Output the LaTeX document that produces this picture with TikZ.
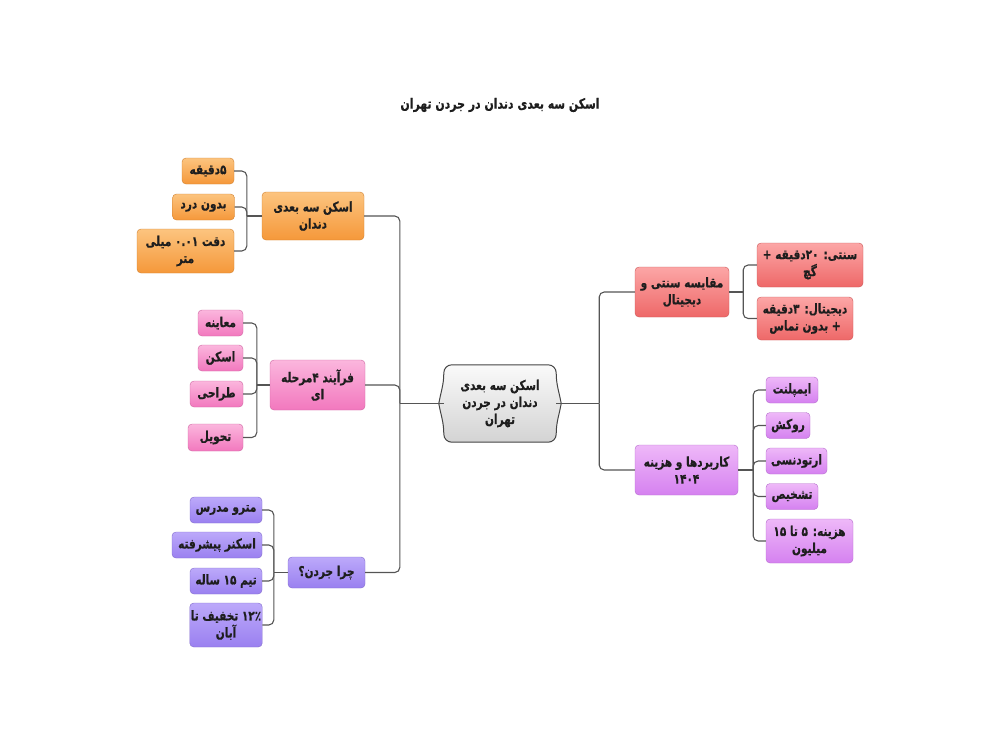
\documentclass[tikz,border=0pt]{standalone}
\usepackage{fontspec}
\usetikzlibrary{backgrounds}
\newfontfamily\arabicfont[Script=Arabic, FakeStretch=0.78, BoldFeatures={FakeBold=0.6}]{DejaVu Sans}
\TeXXeTstate=1
\newcommand{\fa}[1]{{\arabicfont\bfseries\beginR #1\endR}}
\newcommand{\nm}[1]{\beginL #1\endL}

\definecolor{txt}{HTML}{1E1E1E}
\definecolor{linec}{HTML}{555555}
\definecolor{orA}{HTML}{FCC47F}
\definecolor{orB}{HTML}{F5983A}
\definecolor{piA}{HTML}{FBB6DD}
\definecolor{piB}{HTML}{F278BE}
\definecolor{peA}{HTML}{BCA9FA}
\definecolor{peB}{HTML}{9A80F0}
\definecolor{reA}{HTML}{FCA6A6}
\definecolor{reB}{HTML}{EE6868}
\definecolor{viA}{HTML}{EEB8F8}
\definecolor{viB}{HTML}{D581F0}
\definecolor{grA}{HTML}{FAFAFA}
\definecolor{grB}{HTML}{D3D3D3}

\tikzset{
	box/.style={rounded corners=4pt, align=center, inner xsep=1pt, inner ysep=2pt, text=txt,
		font=\fontsize{13.5}{17}\selectfont},
	orangebox/.style={box, top color=orA, bottom color=orB, draw=orB!85!black, line width=0.4pt},
	pinkbox/.style={box, top color=piA, bottom color=piB, draw=piB!85!black, line width=0.4pt},
	peribox/.style={box, top color=peA, bottom color=peB, draw=peB!85!black, line width=0.4pt},
	redbox/.style={box, top color=reA, bottom color=reB, draw=reB!85!black, line width=0.4pt},
	violetbox/.style={box, top color=viA, bottom color=viB, draw=viB!85!black, line width=0.4pt},
	link/.style={draw=linec, line width=1.1pt, rounded corners=5pt},
}

\begin{document}
\begin{tikzpicture}[x=1pt, y=-1pt]
	\useasboundingbox (0,0) rectangle (1000,750);

	\node[text=txt, font=\fontsize{14}{16}\selectfont] (ttl) at (500,105) {\fa{اسکن سه بعدی دندان در جردن تهران}};

	\node[align=center, text=txt, font=\fontsize{13.5}{17}\selectfont, minimum width=112pt, minimum height=77pt] (ctr) at (500,403.5)
		{\fa{اسکن سه بعدی}\\\fa{دندان در جردن}\\\fa{تهران}};
	\begin{scope}[on background layer]
		\draw[draw=linec!80!black, line width=1pt, top color=grA, bottom color=grB]
			([xshift=8pt]ctr.north west) -- ([xshift=-8pt]ctr.north east)
			to[out=0,in=90] ([yshift=-8pt]ctr.north east)
			to[out=-90,in=100] ([xshift=5pt]ctr.east)
			to[out=-100,in=90] ([yshift=8pt]ctr.south east)
			to[out=-90,in=0] ([xshift=-8pt]ctr.south east)
			-- ([xshift=8pt]ctr.south west)
			to[out=180,in=-90] ([yshift=8pt]ctr.south west)
			to[out=90,in=-80] ([xshift=-5pt]ctr.west)
			to[out=80,in=-90] ([yshift=-8pt]ctr.north west)
			to[out=90,in=180] cycle;
	\end{scope}

	% left
	\node[orangebox, minimum width=102pt, minimum height=48pt] (scan) at (313,216) {\fa{اسکن سه بعدی}\\\fa{دندان}};
	\node[orangebox, minimum width=52pt, minimum height=26pt] (scanA) at (208,171) {\fa{\nm{۵}دقیقه}};
	\node[orangebox, minimum width=62pt, minimum height=26pt] (scanB) at (203.5,207) {\fa{بدون درد}};
	\node[orangebox, minimum width=97pt, minimum height=44pt] (scanC) at (185.5,251) {\fa{دقت \nm{۰.۰۱} میلی}\\\fa{متر}};

	\node[pinkbox, minimum width=95pt, minimum height=50pt] (step4) at (317.5,385) {\fa{فرآیند \nm{۴}مرحله}\\\fa{ای}};
	\node[pinkbox, minimum width=45pt, minimum height=26pt] (stepA) at (220.5,323) {\fa{معاینه}};
	\node[pinkbox, minimum width=45pt, minimum height=26pt] (stepB) at (220.5,358) {\fa{اسکن}};
	\node[pinkbox, minimum width=53pt, minimum height=26pt] (stepC) at (216.5,394) {\fa{طراحی}};
	\node[pinkbox, minimum width=55pt, minimum height=27pt] (stepD) at (215.5,437.5) {\fa{تحویل}};

	\node[peribox, minimum width=77pt, minimum height=31pt] (why) at (326.5,572.5) {\fa{چرا جردن؟}};
	\node[peribox, minimum width=72pt, minimum height=26pt] (whyA) at (226,510) {\fa{مترو مدرس}};
	\node[peribox, minimum width=90pt, minimum height=26pt] (whyB) at (217,545) {\fa{اسکنر پیشرفته}};
	\node[peribox, minimum width=72pt, minimum height=26pt] (whyC) at (226,581) {\fa{تیم \nm{۱۵} ساله}};
	\node[peribox, minimum width=72pt, minimum height=44pt] (whyD) at (226,625) {\fa{\nm{۱۲٪} تخفیف تا}\\\fa{آبان}};

	% right
	\node[redbox, minimum width=94pt, minimum height=50pt] (cmp) at (682,292) {\fa{مقایسه سنتی و}\\\fa{دیجیتال}};
	\node[redbox, minimum width=106pt, minimum height=44pt] (cmpA) at (810,265) {\fa{سنتی: \nm{۲۰}دقیقه +}\\\fa{گچ}};
	\node[redbox, minimum width=96pt, minimum height=43pt] (cmpB) at (805,318.5) {\fa{دیجیتال: \nm{۳}دقیقه}\\\fa{+ بدون تماس}};

	\node[violetbox, minimum width=103pt, minimum height=50pt] (use) at (686.5,470) {\fa{کاربردها و هزینه}\\\fa{\nm{۱۴۰۴}}};
	\node[violetbox, minimum width=52pt, minimum height=26pt] (useA) at (792,390) {\fa{ایمپلنت}};
	\node[violetbox, minimum width=44pt, minimum height=26pt] (useB) at (788,425.5) {\fa{روکش}};
	\node[violetbox, minimum width=61pt, minimum height=26pt] (useC) at (796.5,461) {\fa{ارتودنسی}};
	\node[violetbox, minimum width=52pt, minimum height=26pt] (useD) at (792,496.5) {\fa{تشخیص}};
	\node[violetbox, minimum width=87pt, minimum height=44pt] (useE) at (809.5,541) {\fa{هزینه: \nm{۵} تا \nm{۱۵}}\\\fa{میلیون}};

	\coordinate (lj) at ([xshift=-44pt]ctr.west);
	\coordinate (rj) at ([xshift=43pt]ctr.east);
	\coordinate (scanJ) at ([xshift=-15pt]scan.west);
	\coordinate (stepJ) at ([xshift=-13pt]step4.west);
	\coordinate (whyJ) at ([xshift=-14pt]why.west);
	\coordinate (cmpJ) at ([xshift=14pt]cmp.east);
	\coordinate (useJ) at ([xshift=15pt]use.east);

	\draw[link] (ctr.west) -- (lj);
	\draw[link] (ctr.east) -- (rj);
	\foreach \b in {scan,step4,why} \draw[link] (lj) |- (\b.east);
	\foreach \b in {cmp,use} \draw[link] (rj) |- (\b.west);

	\draw[link] (scan.west) -- (scanJ);
	\foreach \b in {scanA,scanB,scanC} \draw[link] (scanJ) |- (\b.east);
	\draw[link] (step4.west) -- (stepJ);
	\foreach \b in {stepA,stepB,stepC,stepD} \draw[link] (stepJ) |- (\b.east);
	\draw[link] (why.west) -- (whyJ);
	\foreach \b in {whyA,whyB,whyC,whyD} \draw[link] (whyJ) |- (\b.east);
	\draw[link] (cmp.east) -- (cmpJ);
	\foreach \b in {cmpA,cmpB} \draw[link] (cmpJ) |- (\b.west);
	\draw[link] (use.east) -- (useJ);
	\foreach \b in {useA,useB,useC,useD,useE} \draw[link] (useJ) |- (\b.west);
\end{tikzpicture}
\end{document}
